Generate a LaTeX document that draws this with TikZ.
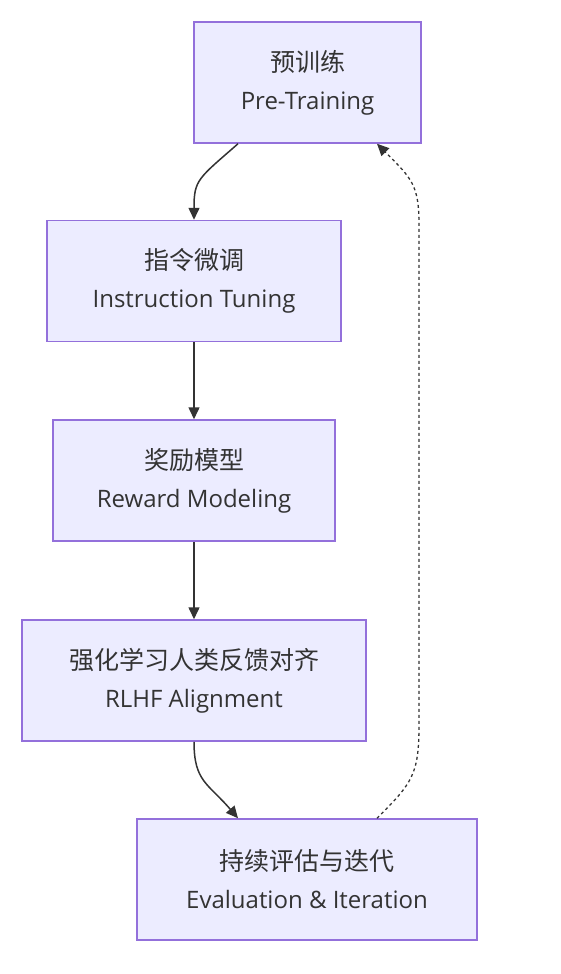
\documentclass[tikz,border=0pt]{standalone}
\usepackage{fontspec}
\setmainfont{Open Sans}
\newfontfamily\cjk{Noto Sans CJK SC}
\usetikzlibrary{arrows.meta,calc}
\definecolor{boxfill}{HTML}{ECECFF}
\definecolor{boxline}{HTML}{9370DB}
\definecolor{ink}{HTML}{333333}
\tikzset{
  stage/.style={draw=boxline, fill=boxfill, line width=1.5pt, minimum height=121pt,
    align=center, text=ink, font=\fontsize{24}{38}\selectfont, inner sep=0pt},
  flow/.style={draw=ink, line width=1.5pt, -{Triangle[length=12pt,width=11pt]}},
  loopback/.style={draw=ink, line width=1.3pt, dash pattern=on 3pt off 3pt, -{Triangle[length=12pt,width=11pt]}}
}
\newcommand{\zh}[1]{{\cjk\fontsize{25}{38}\selectfont #1}}
\begin{document}
\begin{tikzpicture}[x=1pt,y=-1pt]
\useasboundingbox (0,0) rectangle (560,974);
\node[stage, minimum width=227pt] (n1) at (307.5,82.5) {\zh{预训练}\\Pre-Training};
\node[stage, minimum width=294pt] (n2) at (194,281) {\zh{指令微调}\\Instruction Tuning};
\node[stage, minimum width=282pt] (n3) at (194,480.5) {\zh{奖励模型}\\Reward Modeling};
\node[stage, minimum width=344pt] (n4) at (194,680.5) {\zh{强化学习人类反馈对齐}\\RLHF Alignment};
\node[stage, minimum width=340pt] (n5) at (307,879.5) {\zh{持续评估与迭代}\\Evaluation \& Iteration};
\draw[flow] ($(n1.south)+(-69.5,0)$) .. controls +(-40,35) and +(0,-40) .. (n2.north);
\draw[flow] (n2) -- (n3);
\draw[flow] (n3) -- (n4);
\draw[flow] (n4.south) .. controls +(0,40) and +(-30,-35) .. ($(n5.north)+(-69,0)$);
\coordinate (r1) at (419,725);
\coordinate (r2) at (419,225);
\draw[loopback] ($(n5.north)+(70,0)$) .. controls +(35,-35) and +(0,50) .. (r1) -- (r2) .. controls +(0,-40) and +(35,35) .. ($(n1.south)+(69.5,0)$);
\end{tikzpicture}
\end{document}
